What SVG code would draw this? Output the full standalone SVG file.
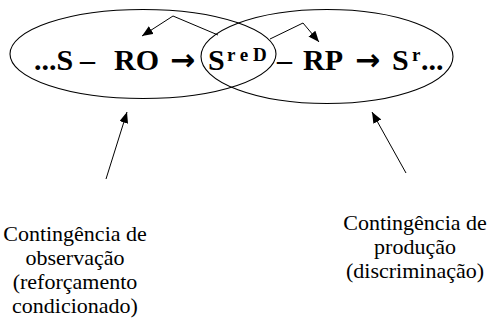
<svg xmlns="http://www.w3.org/2000/svg" width="492" height="325" viewBox="0 0 492 325">
  <defs>
    <marker id="ah" markerUnits="userSpaceOnUse" markerWidth="12" markerHeight="10" refX="11" refY="4.5" orient="auto">
      <path d="M0,0 L11,4.5 L0,9 z" fill="#000"/>
    </marker>
  </defs>
  <rect width="492" height="325" fill="#fff"/>
  <g id="observation-ellipse">
    <ellipse fill="none" stroke="#000" stroke-width="1.1" cx="143" cy="54" rx="133" ry="44.5"/>
  </g>
  <g id="production-ellipse">
    <ellipse fill="none" stroke="#000" stroke-width="1.1" cx="327" cy="56.5" rx="126" ry="47"/>
  </g>
  <g id="formula">
    <text x="34" y="70" font-size="30" font-weight="bold" font-family="'Liberation Serif'">...S</text>
    <text x="80" y="70" font-size="30" font-weight="bold" font-family="'Liberation Serif'">–</text>
    <text x="114" y="70" font-size="30" font-weight="bold" font-family="'Liberation Serif'">RO</text>
    <text x="170" y="70" font-size="30" font-weight="bold" font-family="'DejaVu Sans'">→</text>
    <text x="208" y="70" font-size="30" font-weight="bold" font-family="'Liberation Serif'">S</text>
    <text x="227" y="61" font-size="19" font-weight="bold" font-family="'Liberation Serif'">r e D</text>
    <text x="277" y="70" font-size="30" font-weight="bold" font-family="'Liberation Serif'">–</text>
    <text x="303" y="70" font-size="30" font-weight="bold" font-family="'Liberation Serif'">RP</text>
    <text x="355" y="70" font-size="30" font-weight="bold" font-family="'DejaVu Sans'">→</text>
    <text x="392" y="70" font-size="30" font-weight="bold" font-family="'Liberation Serif'">S</text>
    <text x="412" y="61" font-size="19" font-weight="bold" font-family="'Liberation Serif'">r</text>
    <text x="421" y="70" font-size="30" font-weight="bold" font-family="'Liberation Serif'">...</text>
  </g>
  <g id="label-observacao">
    <text x="75" y="241" font-size="22" text-anchor="middle" font-family="'Liberation Serif'">Contingência de</text>
    <text x="75" y="265" font-size="22" text-anchor="middle" font-family="'Liberation Serif'">observação</text>
    <text x="75" y="289" font-size="22" text-anchor="middle" font-family="'Liberation Serif'">(reforçamento</text>
    <text x="75" y="313" font-size="22" text-anchor="middle" font-family="'Liberation Serif'">condicionado)</text>
  </g>
  <g id="label-producao">
    <text x="415" y="230" font-size="22" text-anchor="middle" font-family="'Liberation Serif'">Contingência de</text>
    <text x="415" y="254" font-size="22" text-anchor="middle" font-family="'Liberation Serif'">produção</text>
    <text x="415" y="278" font-size="22" text-anchor="middle" font-family="'Liberation Serif'">(discriminação)</text>
  </g>
  <g id="connectors" fill="none" stroke="#000" stroke-width="1">
    <polyline points="218,35 173,16 142,36" marker-end="url(#ah)"/>
    <polyline points="270,39 303,23 319,42" marker-end="url(#ah)"/>
    <line x1="106" y1="179" x2="127" y2="112" marker-end="url(#ah)"/>
    <line x1="406" y1="173" x2="372" y2="112" marker-end="url(#ah)"/>
  </g>
</svg>
